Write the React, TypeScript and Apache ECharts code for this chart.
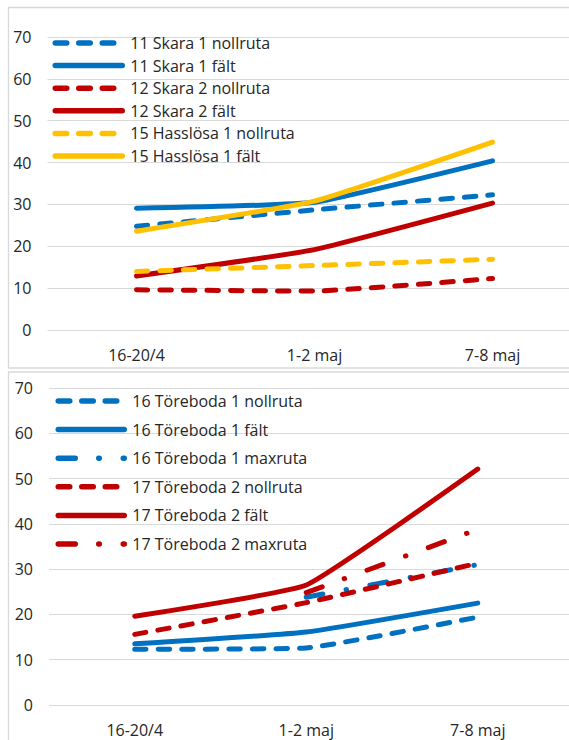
import React, { useEffect, useRef } from "react";
import * as echarts from "echarts";

// Category axis (4th slot is empty; the original plot area runs past the crop)
const categories = ["16-20/4", "1-2 maj", "7-8 maj", ""];

// Top chart
const topNames = [
  "11 Skara 1 nollruta",
  "11 Skara 1 fält",
  "12 Skara 2 nollruta",
  "12 Skara 2 fält",
  "15 Hasslösa 1 nollruta",
  "15 Hasslösa 1 fält",
];
const skara1Noll = [24.8, 28.7, 32.3];
const skara1Falt = [29.1, 30.5, 40.4];
const skara2Noll = [9.6, 9.3, 12.3];
const skara2Falt = [12.9, 19.2, 30.3];
const hass1Noll = [14.0, 15.4, 16.9];
const hass1Falt = [23.6, 30.8, 44.9];

// Bottom chart
const botNames = [
  "16 Töreboda 1 nollruta",
  "16 Töreboda 1 fält",
  "16 Töreboda 1 maxruta",
  "17 Töreboda 2 nollruta",
  "17 Töreboda 2 fält",
  "17 Töreboda 2 maxruta",
];
const tore1Noll = [12.3, 12.6, 19.4];
const tore1Falt = [13.5, 16.1, 22.5];
const tore1Max = [null, 23.8, 31.0];
const tore2Noll = [15.6, 22.6, 31.3];
const tore2Falt = [19.6, 26.5, 52.1];
const tore2Max = [null, 24.8, 38.8];

const yMin = 0;
const yMax = 70;
const yStep = 10;

const FONT = "'Open Sans', sans-serif";
const TEXT = "#262626";
const GRID = "#d9d9d9";
const BLUE = "#0070C0";
const RED = "#C00000";
const YEL = "#FFC000";
const SOLID = "solid";
const DASH = [11.5, 12];
const DASHDOT = [17, 23.5, 0.5, 24];

function mkLine(name: string, data: any[], color: string, type: any, idx: number) {
  return {
    type: "line",
    name,
    data,
    xAxisIndex: idx,
    yAxisIndex: idx,
    symbol: "none",
    smooth: 0.12,
    lineStyle: { color, width: 5, type, cap: "round", join: "round" },
    itemStyle: { color },
    emphasis: { disabled: true },
  };
}

function mkLegend(names: string[], left: number, top: number, gap: number, w: number) {
  return {
    data: names,
    orient: "vertical",
    left,
    top,
    padding: 0,
    itemWidth: w,
    itemHeight: 6,
    itemGap: gap,
    selectedMode: false,
    itemStyle: { opacity: 0 },
    lineStyle: { width: 5.5, cap: "round" },
    textStyle: { fontFamily: FONT, fontSize: 16, lineHeight: 20, color: TEXT, padding: [0, 0, 0, 3] },
  };
}

function mkX(idx: number) {
  return {
    gridIndex: idx,
    type: "category",
    data: categories,
    boundaryGap: true,
    axisLine: { show: false },
    axisTick: { show: false },
    splitLine: { show: false },
    axisLabel: { fontFamily: FONT, fontSize: 16, color: TEXT, margin: 17, interval: 0 },
  };
}

function mkY(idx: number) {
  return {
    gridIndex: idx,
    type: "value",
    min: yMin,
    max: yMax,
    interval: yStep,
    axisLine: { show: false },
    axisTick: { show: false },
    axisLabel: { fontFamily: FONT, fontSize: 16, color: TEXT, margin: 16 },
    splitLine: { lineStyle: { color: GRID, width: 1.2 } },
  };
}

export default function App() {
  const ref = useRef<HTMLDivElement>(null);
  useEffect(() => {
    if (!ref.current) return;
    const chart = echarts.init(ref.current, undefined, { renderer: "svg" });
    chart.setOption({
      animation: false,
      backgroundColor: "#ffffff",
      grid: [
        { left: 47.5, top: 37, width: 712, height: 293, outerBoundsMode: "none", containLabel: false },
        { left: 49, top: 388, width: 686, height: 317, outerBoundsMode: "none", containLabel: false },
      ],
      xAxis: [mkX(0), mkX(1)],
      yAxis: [mkY(0), mkY(1)],
      legend: [
        mkLegend(topNames, 52.5, 33, 2.6, 67),
        mkLegend(botNames, 55.5, 391, 8.6, 66),
      ],
      graphic: [
        {
          type: "rect",
          silent: true,
          z: -10,
          shape: { x: 8.5, y: 7.5, width: 620, height: 360.5 },
          style: { fill: "none", stroke: GRID, lineWidth: 1.3 },
        },
        {
          type: "rect",
          silent: true,
          z: -10,
          shape: { x: 8.5, y: 372, width: 620, height: 420 },
          style: { fill: "none", stroke: GRID, lineWidth: 1.3 },
        },
      ],
      series: [
        mkLine(topNames[0], skara1Noll, BLUE, DASH, 0),
        mkLine(topNames[1], skara1Falt, BLUE, SOLID, 0),
        mkLine(topNames[2], skara2Noll, RED, DASH, 0),
        mkLine(topNames[3], skara2Falt, RED, SOLID, 0),
        mkLine(topNames[4], hass1Noll, YEL, DASH, 0),
        mkLine(topNames[5], hass1Falt, YEL, SOLID, 0),
        mkLine(botNames[0], tore1Noll, BLUE, DASH, 1),
        mkLine(botNames[1], tore1Falt, BLUE, SOLID, 1),
        mkLine(botNames[2], tore1Max, BLUE, DASHDOT, 1),
        mkLine(botNames[3], tore2Noll, RED, DASH, 1),
        mkLine(botNames[4], tore2Falt, RED, SOLID, 1),
        mkLine(botNames[5], tore2Max, RED, DASHDOT, 1),
      ],
    });
    return () => chart.dispose();
  }, []);
  return (
    <div
      ref={ref}
      style={{ position: "fixed", left: 0, top: 0, width: 569, height: 740, overflow: "hidden" }}
    />
  );
}
